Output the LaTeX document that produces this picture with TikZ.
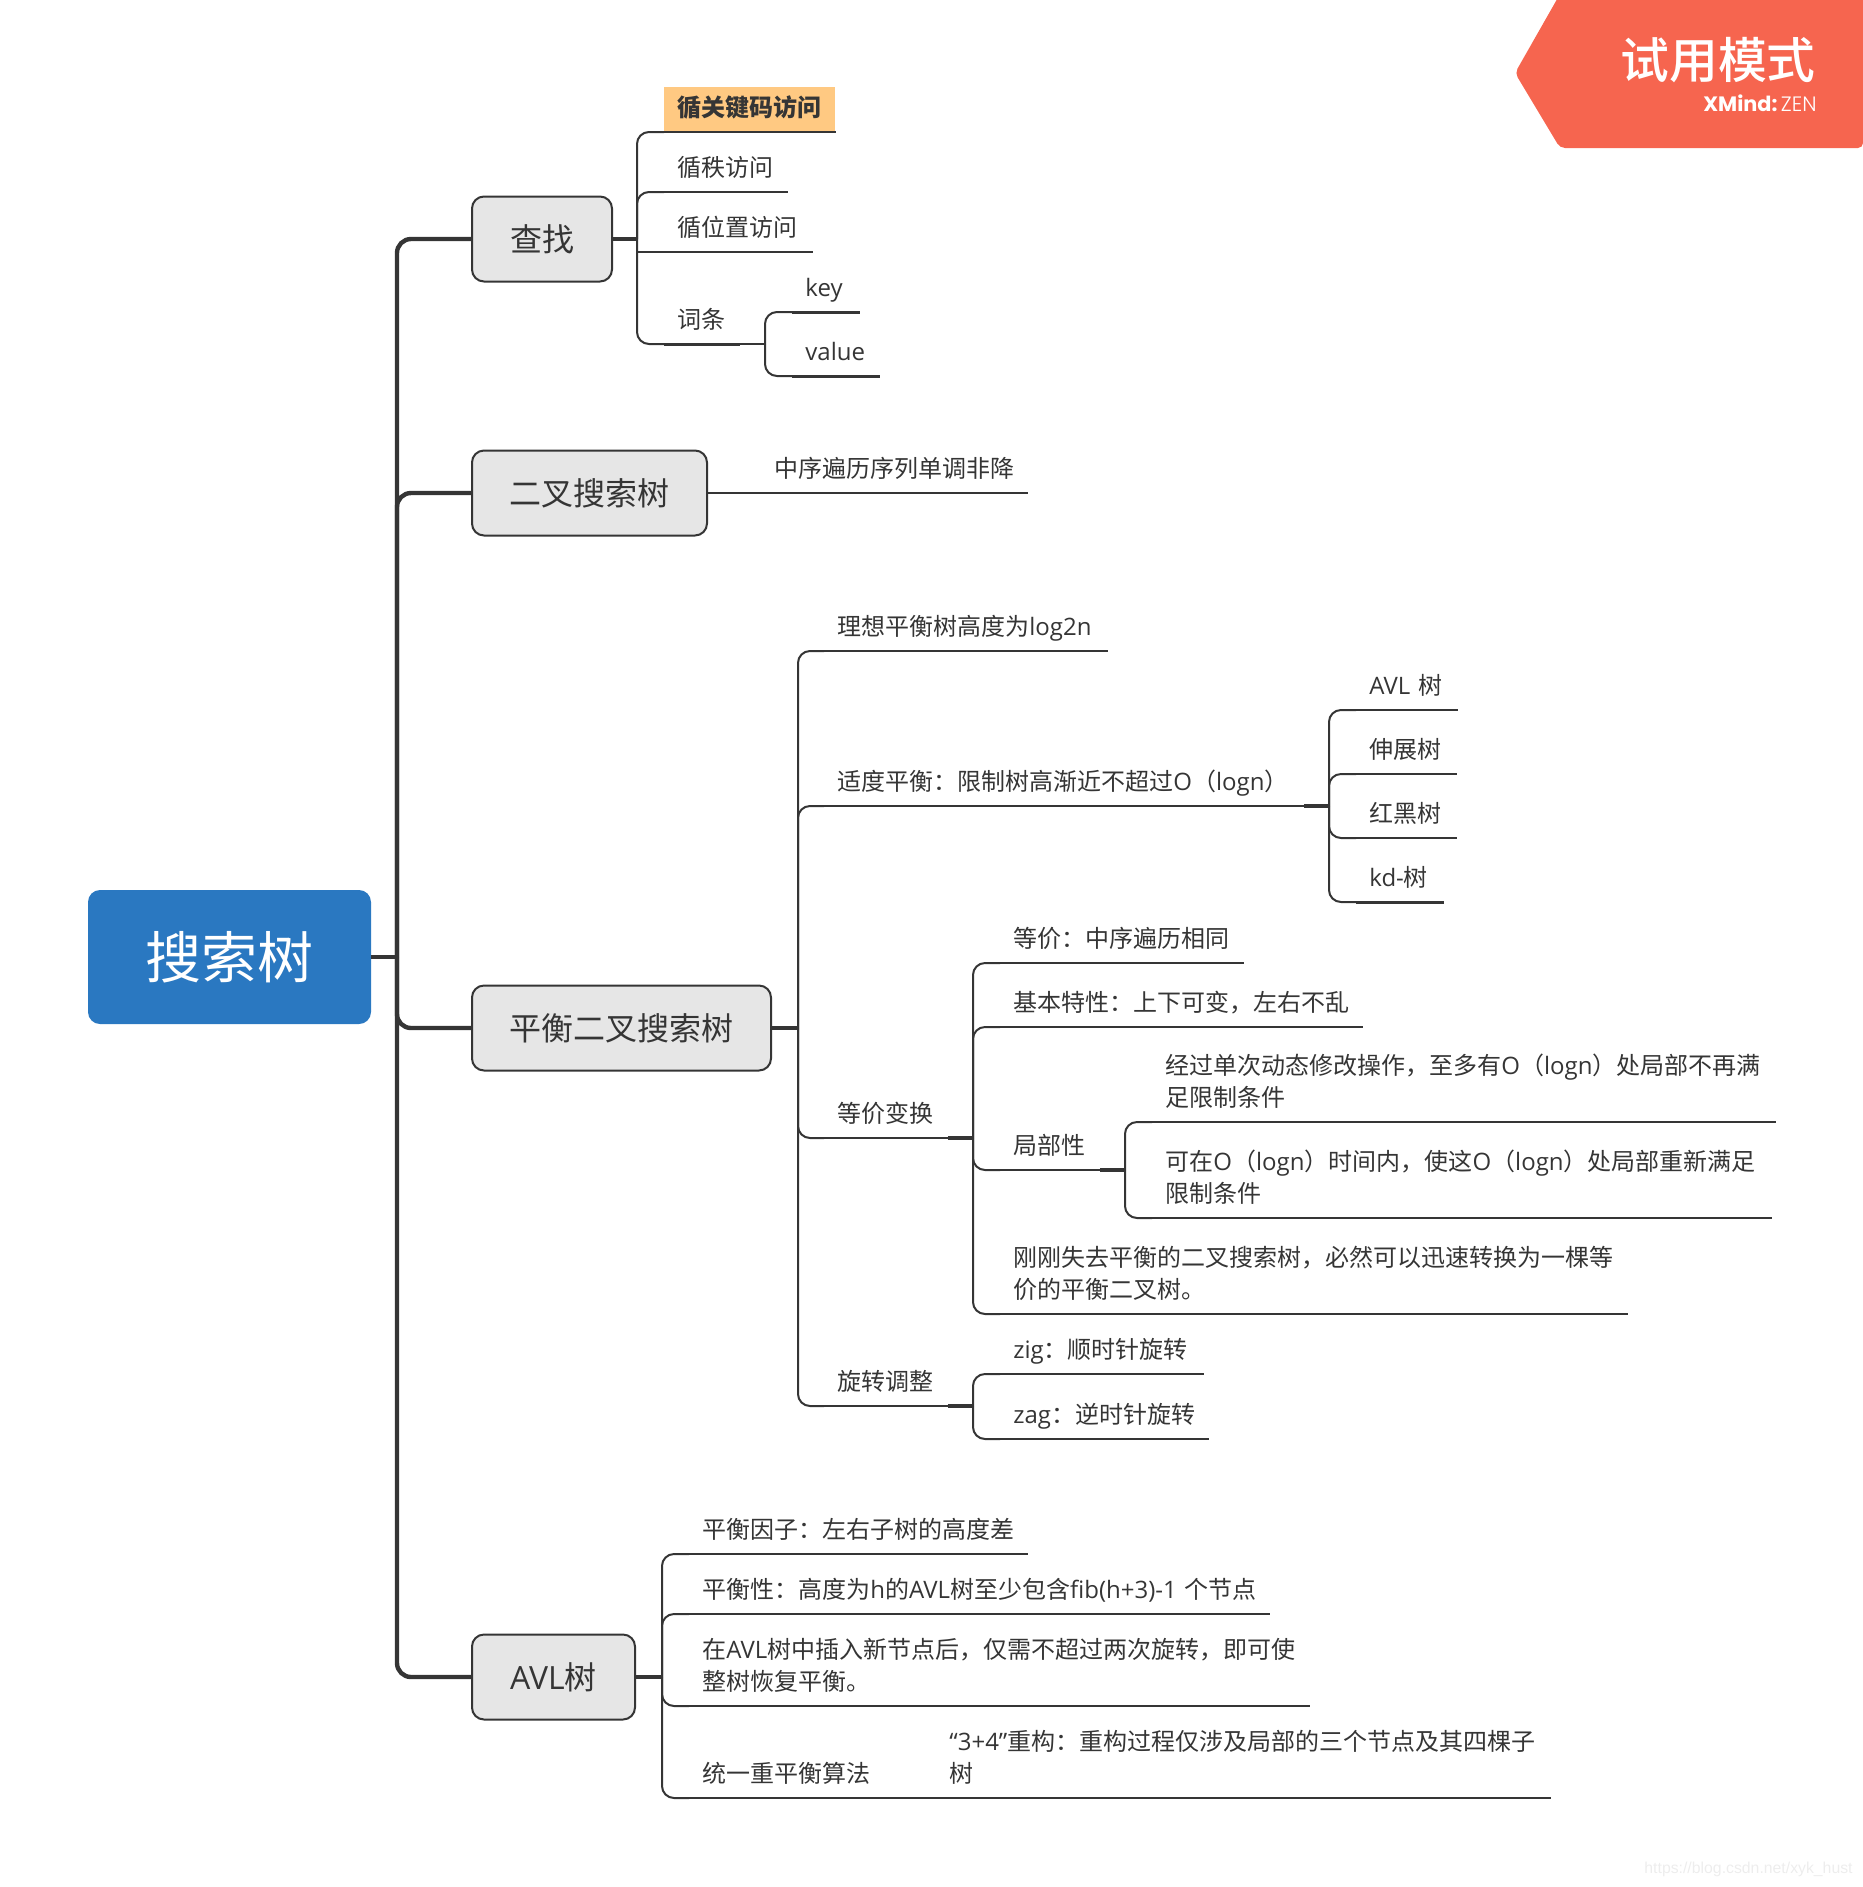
\documentclass[tikz,border=0pt]{standalone}
\usepackage{fontspec}
\setmainfont{Noto Sans CJK SC}
\newfontfamily\titlefont{Noto Sans CJK SC Medium}
\newfontfamily\latfont{Open Sans}
\newfontfamily\tagfont{Poppins}
\newfontfamily\tagthin{Poppins Light}
\newfontfamily\markfont{Liberation Sans}
\newcommand{\lat}[1]{{\latfont #1}}
\definecolor{rootblue}{HTML}{2A78C1}
\definecolor{boxgray}{HTML}{E6E6E6}
\definecolor{inkgray}{HTML}{353535}
\definecolor{tagred}{HTML}{F6654F}
\definecolor{markgold}{HTML}{FFC982}
\definecolor{markgray}{HTML}{EDEDED}
\tikzset{
  % --- topics ---
  rootbox/.style={draw=none, fill=rootblue, text=white, rounded corners=6pt,
    minimum width=141.5pt, minimum height=67pt, font=\fontsize{28}{34}\selectfont},
  mainbox/.style={draw=inkgray, fill=boxgray, text=inkgray, rounded corners=6pt,
    line width=1pt, minimum height=42.5pt, font=\fontsize{16}{20}\selectfont, inner sep=0pt},
  leaf/.style={anchor=south west, align=left, text=inkgray, inner xsep=6.5pt, inner ysep=2.55pt,
    text width=#1, font=\fontsize{12}{16}\selectfont, execute at end node=\strut},
  % --- connectors ---
  trunk/.style={line width=2.2pt, draw=inkgray, rounded corners=7pt},
  stub/.style={line width=1.6pt, draw=inkgray},
  link/.style={line width=1pt, draw=inkgray, rounded corners=6pt},
  heavy/.style={line width=1.5pt, draw=inkgray},
}
\begin{document}
\begin{tikzpicture}[x=0.5pt, y=-0.5pt]
    \useasboundingbox (0,0) rectangle (1863,1887);
    % trial tag
    \fill[tagred, rounded corners=2.5pt] (1515,73) -- (1560,-6) -- (1863,-6) -- (1863,148) -- (1560,148) -- cycle;
    \node[text=white, font=\fontsize{24.4}{28}\titlefont, anchor=east, inner sep=0pt] (tagTitle) at (1816,60) {试用模式};
    \node[text=white, font=\fontsize{10.4}{12}\selectfont, anchor=east, inner sep=0pt] (tagBrand) at (1817,103) {{\tagfont\bfseries XMind:}\,{\tagthin ZEN}};
    % main topics
    \node[rootbox] (root) at (229.5,957) {搜索树};
    \node[mainbox, minimum width=70pt] (find) at (542,239) {查找};
    \node[mainbox, minimum width=117.5pt] (bst) at (589.5,493) {二叉搜索树};
    \node[mainbox, minimum width=149.5pt] (balanced) at (621.5,1028) {平衡二叉搜索树};
    \node[mainbox, minimum width=81.5pt] (avl) at (553.5,1677) {\lat{AVL}树};
    % junctions
    \coordinate (jRoot) at (397,957);
    \coordinate (jFind) at (637,239);
    \coordinate (jEntry) at (765,344);
    \coordinate (jBalanced) at (798,1028);
    \coordinate (jModerate) at (1329,806);
    \coordinate (jEquiv) at (973,1138);
    \coordinate (jLocal) at (1125,1170);
    \coordinate (jRotate) at (973,1406);
    \coordinate (jAvl) at (662,1677);
    % find
    \fill[markgold] (664,87) rectangle (835,132);
    \node[leaf=72.5pt, font=\fontsize{12}{16}\selectfont\bfseries] (byKey) at (664,132) {循关键码访问};
    \node[leaf=48.5pt] (byRank) at (664,192) {循秩访问};
    \node[leaf=61pt] (byPos) at (664,252) {循位置访问};
    \node[leaf=24.5pt] (entry) at (664,344) {词条};
    \node[leaf=20.5pt] (key) at (792,312) {\lat{key}};
    \node[leaf=30.5pt] (value) at (792,376) {\lat{value}};
    % binary search tree
    \node[leaf=120pt] (inorder) at (761,493) {中序遍历序列单调非降};
    % balanced tree
    \node[leaf=128.5pt] (ideal) at (824,651) {理想平衡树高度为\lat{log2n}};
    \node[leaf=226.5pt] (moderate) at (824,806) {适度平衡：限制树高渐近不超过\lat{O}（\lat{logn}）};
    \node[leaf=37.5pt] (avlName) at (1356,710) {\lat{AVL} 树};
    \node[leaf=37pt] (splay) at (1356,774) {伸展树};
    \node[leaf=37pt] (redBlack) at (1356,838) {红黑树};
    \node[leaf=30.5pt] (kdTree) at (1356,902) {\lat{kd-}树};
    \node[leaf=48.5pt] (equiv) at (824,1138) {等价变换};
    \node[leaf=108.5pt] (same) at (1000,963) {等价：中序遍历相同};
    \node[leaf=168pt] (feature) at (1000,1027) {基本特性：上下可变，左右不乱};
    \node[leaf=36.5pt] (local) at (1000,1170) {局部性};
    \node[leaf=298.5pt] (broken) at (1152,1122) {经过单次动态修改操作，至多有\lat{O}（\lat{logn}）处局部不再满\\足限制条件};
    \node[leaf=296.5pt] (restore) at (1152,1218) {可在\lat{O}（\lat{logn}）时间内，使这\lat{O}（\lat{logn}）处局部重新满足\\限制条件};
    \node[leaf=300.5pt] (convert) at (1000,1314) {刚刚失去平衡的二叉搜索树，必然可以迅速转换为一棵等\\价的平衡二叉树。};
    \node[leaf=48.5pt] (rotate) at (824,1406) {旋转调整};
    \node[leaf=88.5pt] (zig) at (1000,1374) {\lat{zig}：顺时针旋转};
    \node[leaf=91pt] (zag) at (1000,1439) {\lat{zag}：逆时针旋转};
    % avl tree
    \node[leaf=156pt] (factor) at (689,1554) {平衡因子：左右子树的高度差};
    \node[leaf=277pt] (balance) at (689,1614) {\mbox{平衡性：高度为\lat{h}的\lat{AVL}树至少包含\lat{fib(h+3)-1}~个节点}};
    \node[leaf=297pt] (insert) at (689,1706) {在\lat{AVL}树中插入新节点后，仅需不超过两次旋转，即可使\\整树恢复平衡。};
    \node[leaf=84.5pt] (unify) at (689,1798) {统一重平衡算法};
    \node[leaf=294pt] (rebuild) at (936,1798) {\lat{“3+4”}重构：重构过程仅涉及局部的三个节点及其四棵子\\树};
    % site mark
    \node[text=markgray, font=\fontsize{7.9}{10}\selectfont\markfont, anchor=east, inner sep=0pt] (siteMark) at (1853,1869) {https://blog.csdn.net/xyk\_hust};
    % trunk connectors
    \draw[stub] (root.east) -- (jRoot);
    \foreach \t in {find,bst,balanced,avl}{ \draw[trunk] (jRoot) |- (\t.west); }
    % stubs from parents
    \draw[stub] (find.east) -- (jFind);
    \draw[stub] (balanced.east) -- (jBalanced);
    \draw[stub] (avl.east) -- (jAvl);
    \draw[link] (bst.east) -- (inorder.south west);
    \draw[link] (inorder.south west) -- (inorder.south east);
    \draw[stub] (moderate.south east) -- (jModerate);
    \draw[stub] (equiv.south east) -- (jEquiv);
    \draw[stub] (local.south east) -- (jLocal);
    \draw[stub] (rotate.south east) -- (jRotate);
    \draw[link] (entry.south east) -- (jEntry);
    \draw[link] (unify.south east) -- (rebuild.south west);
    \draw[link, sharp corners] (jFind) |- (byPos.south west) -- (byPos.south east);
    % branches with their underlines
    \foreach \j/\n/\s in {jFind/byKey/link,jFind/byRank/link,jFind/entry/heavy,
      jEntry/key/heavy,jEntry/value/heavy,
      jBalanced/ideal/link,jBalanced/moderate/link,jBalanced/equiv/link,jBalanced/rotate/link,
      jModerate/avlName/link,jModerate/splay/link,jModerate/redBlack/link,jModerate/kdTree/heavy,
      jEquiv/same/link,jEquiv/feature/link,jEquiv/local/link,jEquiv/convert/link,
      jLocal/broken/link,jLocal/restore/link,jRotate/zig/link,jRotate/zag/link,
      jAvl/factor/link,jAvl/balance/link,jAvl/insert/link,jAvl/unify/link}{
      \draw[link] (\j) |- (\n.south west);
      \draw[\s] (\n.south west) -- (\n.south east);
    }
    \draw[link] (rebuild.south west) -- (rebuild.south east);
  \end{tikzpicture}
\end{document}
